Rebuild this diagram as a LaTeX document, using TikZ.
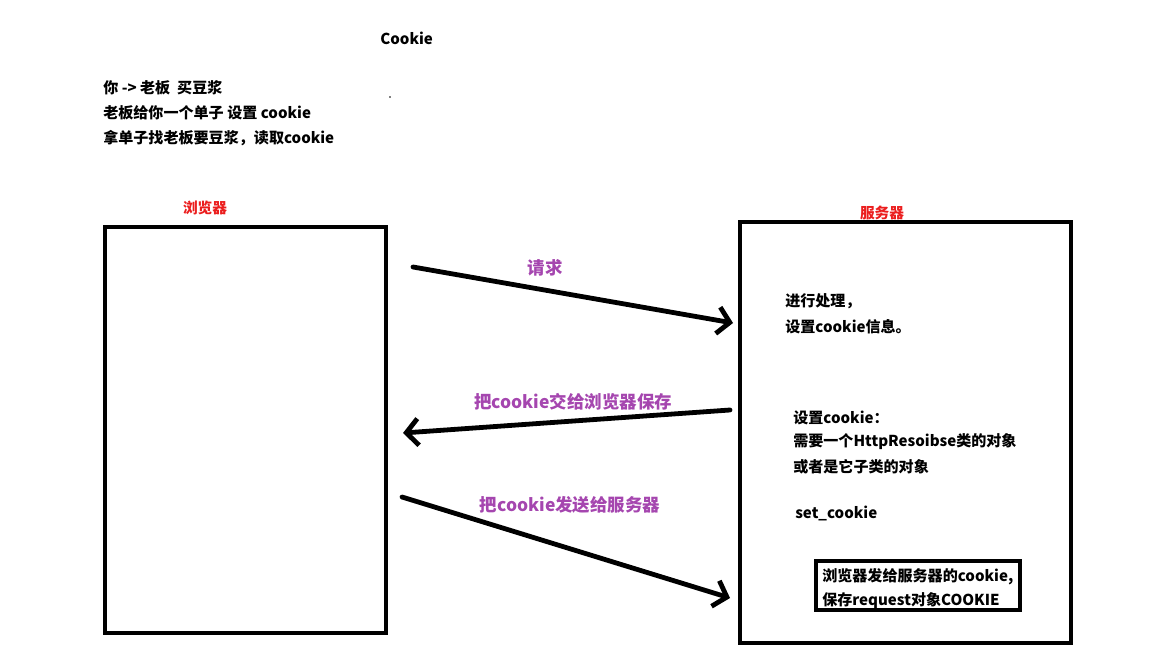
\documentclass[tikz,border=0pt]{standalone}
\usepackage{fontspec}
\setmainfont{Noto Sans CJK SC}
\usetikzlibrary{arrows.meta}
\definecolor{labelpurple}{RGB}{165,70,175}
\definecolor{titlered}{RGB}{235,30,30}
\tikzset{
  txt/.style={anchor=west,inner sep=0pt,font=\fontsize{11.3pt}{14pt}\selectfont\bfseries},
  msg/.style={inner sep=0pt,text=labelpurple,font=\fontsize{13.1pt}{15pt}\selectfont\bfseries},
  side/.style={inner sep=0pt,text=titlered,font=\fontsize{11pt}{14pt}\selectfont\bfseries},
  flow/.style={line width=3.6pt,line cap=round,-{Straight Barb[length=9pt,width=20pt,line width=3.6pt]}}
}
\begin{document}
\begin{tikzpicture}[x=0.75pt,y=-0.75pt]
\useasboundingbox (0,0) rectangle (1152,648);

\node[txt] (title) at (380,38) {Cookie};
\node[txt] (l1) at (103,88) {你 -> 老板\ \ 买豆浆};
\node[txt] (l2) at (103,113) {老板给你一个单子 设置 cookie};
\node[txt] (l3) at (103,138) {拿单子找老板要豆浆，读取cookie};
\fill (390,97) circle (0.8);

\node[side] (bname) at (205,208) {浏览器};
\node[side] (sname) at (882,213) {服务器};

\draw[line width=3pt] (105,227) rectangle (386,633);
\draw[line width=3pt] (740,222) rectangle (1071,643);

\coordinate (A1) at (413,267);
\coordinate (A2) at (733,323);
\coordinate (B1) at (730,410);
\coordinate (B2) at (403,433);
\coordinate (C1) at (402,497);
\coordinate (C2) at (730,598);

\draw[flow] (A1) -- (A2);
\draw[flow] (B1) -- (B2);
\draw[flow] (C1) -- (C2);

\node[msg] (req) at (545,268) {请求};
\node[msg] (save) at (573,402) {把cookie交给浏览器保存};
\node[msg] (send) at (570,505) {把cookie发送给服务器};

\node[txt] (s1) at (785,301) {进行处理，};
\node[txt] (s2) at (785,327) {设置cookie信息。};
\node[txt] (s3) at (793,418) {设置cookie：};
\node[txt] (s4) at (793,442) {需要一个HttpResoibse类的对象};
\node[txt] (s5) at (793,467) {或者是它子类的对象};
\node[txt] (s6) at (795,513) {set\_cookie};

\draw[line width=3pt] (816,561) rectangle (1020,610);
\node[txt] (k1) at (822,577) {浏览器发给服务器的cookie,};
\node[txt] (k2) at (822,601) {保存request对象COOKIE};
\end{tikzpicture}
\end{document}
